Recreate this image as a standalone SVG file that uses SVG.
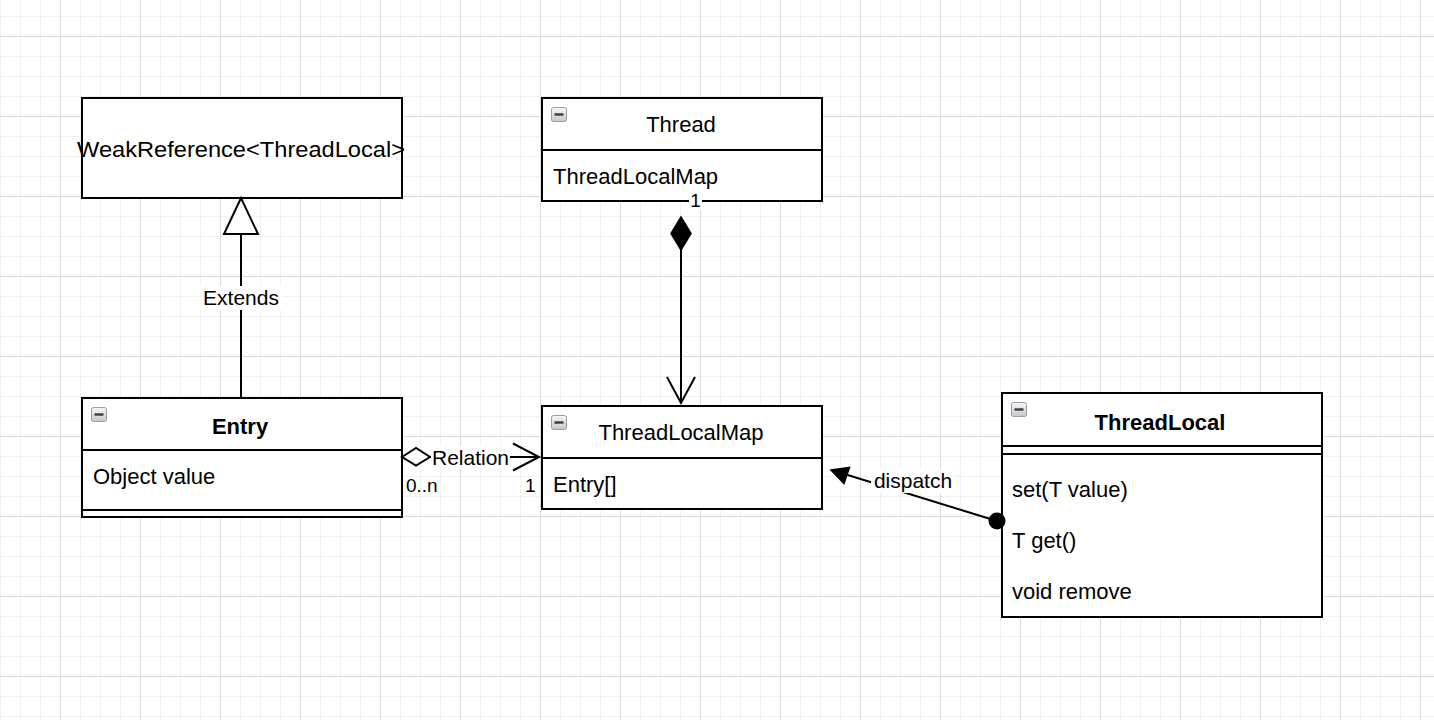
<svg xmlns="http://www.w3.org/2000/svg" width="1434" height="720" viewBox="0 0 1434 720">
<style>
.box{fill:#ffffff;stroke:#000000;stroke-width:2}
.div{stroke:#000000;stroke-width:2;fill:none}
.edge{stroke:#000000;stroke-width:2;fill:none}
.t{font-family:"Liberation Sans",Arial,Helvetica,sans-serif;font-size:22px;fill:#000000}
.b{font-weight:bold}
.c{text-anchor:middle}
.lbl{font-family:"Liberation Sans",Arial,Helvetica,sans-serif;font-size:21px;fill:#000000;text-anchor:middle}
.sm{font-family:"Liberation Sans",Arial,Helvetica,sans-serif;font-size:19px;fill:#000000}
.bg{fill:#ffffff}
.ico{fill:url(#icoG);stroke:#9c9c9c;stroke-width:1}
.icobar{stroke:#3a3a3a;stroke-width:2.4}
</style>
<defs>
<pattern id="minor" patternUnits="userSpaceOnUse" x="0" y="16" width="20" height="20">
<path d="M0.5 0V20M0 0.5H20" stroke="#f2f2f2" stroke-width="1" fill="none"/>
</pattern>
<pattern id="major" patternUnits="userSpaceOnUse" x="60" y="36" width="80" height="80">
<path d="M0.5 0V80M0 0.5H80" stroke="#dcdcdc" stroke-width="1" fill="none"/>
</pattern>
<linearGradient id="icoG" x1="0" y1="0" x2="0" y2="1">
<stop offset="0" stop-color="#f6f7f9"/>
<stop offset="1" stop-color="#c4c8cd"/>
</linearGradient>
<g id="icon">
<rect class="ico" x="0.5" y="0.5" width="15" height="14" rx="2"/>
<line class="icobar" x1="3.5" y1="7.5" x2="12.5" y2="7.5"/>
</g>
</defs>
<rect x="0" y="0" width="1434" height="720" fill="#ffffff"/>
<rect x="0" y="0" width="1434" height="720" fill="url(#minor)"/>
<rect x="0" y="0" width="1434" height="720" fill="url(#major)"/>

<g id="weakreference">
<rect class="box" x="82" y="98" width="320" height="100"/>
<text class="t c" x="241" y="157" textLength="328" lengthAdjust="spacingAndGlyphs">WeakReference&lt;ThreadLocal&gt;</text>
</g>

<g id="thread">
<rect class="box" x="542" y="98" width="280" height="103"/>
<line class="div" x1="542" y1="150" x2="822" y2="150"/>
<use href="#icon" x="551" y="107"/>
<text class="t c" x="681" y="132">Thread</text>
<text class="t" x="553" y="184">ThreadLocalMap</text>
</g>

<g id="entry">
<rect class="box" x="82" y="398" width="320" height="119"/>
<line class="div" x1="82" y1="450" x2="402" y2="450"/>
<line class="div" x1="82" y1="510" x2="402" y2="510"/>
<use href="#icon" x="91" y="407"/>
<text class="t c b" x="240" y="434">Entry</text>
<text class="t" x="93" y="484">Object value</text>
</g>

<g id="threadlocalmap">
<rect class="box" x="542" y="406" width="280" height="103"/>
<line class="div" x1="542" y1="458" x2="822" y2="458"/>
<use href="#icon" x="551" y="415"/>
<text class="t c" x="681" y="440">ThreadLocalMap</text>
<text class="t" x="553" y="492">Entry[]</text>
</g>

<g id="threadlocal">
<rect class="box" x="1002" y="393" width="320" height="224"/>
<line class="div" x1="1002" y1="446" x2="1322" y2="446"/>
<line class="div" x1="1002" y1="454" x2="1322" y2="454"/>
<use href="#icon" x="1011" y="402"/>
<text class="t c b" x="1160" y="430">ThreadLocal</text>
<text class="t" x="1012" y="497">set(T value)</text>
<text class="t" x="1012" y="548">T get()</text>
<text class="t" x="1012" y="599">void remove</text>
</g>

<g id="connectors">
<g id="extends">
<line class="edge" x1="241" y1="234" x2="241" y2="397"/>
<polygon points="241,198 224,234 258,234" fill="#ffffff" stroke="#000000" stroke-width="2"/>
<rect class="bg" x="199" y="286" width="84" height="24"/>
<text class="lbl" x="241" y="305">Extends</text>
</g>
<g id="composition">
<line class="edge" x1="681" y1="250" x2="681" y2="403"/>
<polygon points="681,217 691,233.5 681,250 671,233.5" fill="#000000" stroke="#000000" stroke-width="1.5"/>
<polyline class="edge" points="667,377 681,403 695,377"/>
<rect class="bg" x="689" y="192" width="13" height="18"/>
<text class="sm" x="695.5" y="207" text-anchor="middle">1</text>
</g>
<g id="relation">
<line class="edge" x1="430" y1="457" x2="539" y2="457"/>
<polygon points="402,457 416,448 430,457 416,465.5" fill="#ffffff" stroke="#000000" stroke-width="2"/>
<polyline class="edge" points="513,443.5 539,457 513,470.5"/>
<rect class="bg" x="431" y="446" width="79" height="22"/>
<text class="lbl" x="470.5" y="465">Relation</text>
<text class="sm" x="406" y="492">0..n</text>
<text class="sm" x="525" y="492">1</text>
</g>
<g id="dispatch">
<line class="edge" x1="997" y1="521" x2="846" y2="474.5"/>
<polygon points="831,470 849.5,467.5 844,483.5" fill="#000000" stroke="#000000" stroke-width="1.5"/>
<rect class="bg" x="871" y="469" width="84" height="24"/>
<text class="lbl" x="913" y="488">dispatch</text>
<circle cx="997" cy="521" r="8.5" fill="#000000"/>
</g>
</g>
</svg>
